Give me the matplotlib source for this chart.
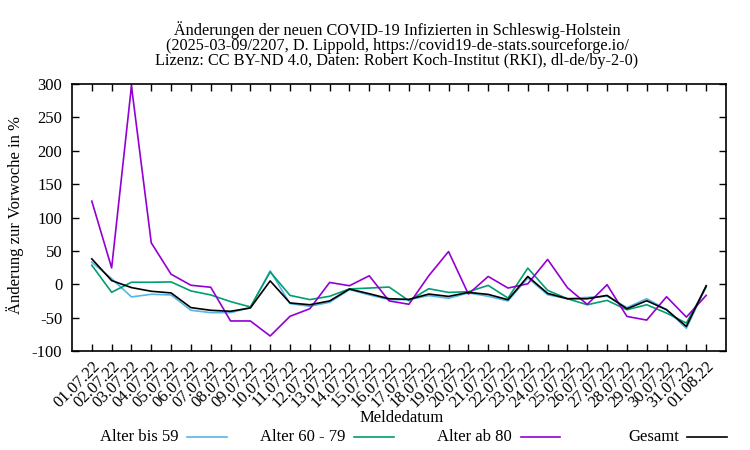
import matplotlib
matplotlib.use("Agg")
import matplotlib.pyplot as plt
from matplotlib.lines import Line2D

dates = ["01.07.22", "02.07.22", "03.07.22", "04.07.22", "05.07.22", "06.07.22", "07.07.22",
         "08.07.22", "09.07.22", "10.07.22", "11.07.22", "12.07.22", "13.07.22", "14.07.22",
         "15.07.22", "16.07.22", "17.07.22", "18.07.22", "19.07.22", "20.07.22", "21.07.22",
         "22.07.22", "23.07.22", "24.07.22", "25.07.22", "26.07.22", "27.07.22", "28.07.22",
         "29.07.22", "30.07.22", "31.07.22", "01.08.22"]

bis59 = [33, 8.5, -19, -15, -16, -39, -42.5, -42.5, -35, 20, -29, -33, -27, -8, -16, -23,
         -23, -17, -21, -13, -18, -25, 9.5, -15.7, -21.7, -19.7, -18, -35, -21.7, -38, -66, -3]
a60_79 = [28.5, -12, 3, 3, 3.5, -10, -16, -26, -34, 18.5, -16.7, -23, -18, -7, -5.7, -4.2,
          -24.7, -6.7, -12.2, -11.2, -1.7, -20.7, 24.2, -9.2, -21.7, -30.7, -24.2, -38.2,
          -30.7, -43.2, -58.2, -4.2]
ab80 = [124.5, 24.5, 297, 62, 15, -1.5, -4.5, -55, -55, -77.5, -48, -36.7, 2.7, -2.2, 12.7,
        -25, -30, 12.7, 49, -14.7, 11.7, -5.7, 0.7, 37.2, -5.2, -30.2, -0.7, -48.2, -53.7,
        -18.7, -49.2, -16.7]
gesamt = [38, 5.5, -5, -10.5, -13, -35, -39, -40.5, -35.5, 5, -28, -30.7, -25, -7.2, -14.2,
          -21.7, -22.7, -14.7, -18.2, -12.2, -15.2, -23.2, 11.7, -13.7, -21.7, -21.7, -16.7,
          -36.7, -24.7, -38.2, -63.2, -2.2]

series = [("Alter bis 59", bis59, "#56b4e9"),
          ("Alter 60 - 79", a60_79, "#009e73"),
          ("Alter ab 80", ab80, "#9400d3"),
          ("Gesamt", gesamt, "#000000")]

plt.rcParams["font.family"] = ["Liberation Serif", "DejaVu Serif"]
plt.rcParams["font.size"] = 12
plt.rcParams["axes.unicode_minus"] = False

W, H = 750, 450
fig = plt.figure(figsize=(7.5, 4.5), dpi=100)
ax = fig.add_axes([72 / W, 1 - 351 / H, (726 - 72) / W, (351 - 84) / H])

x = list(range(len(dates)))
for name, vals, col in series:
    ax.plot(x, vals, color=col, lw=1.2)

ax.set_xlim(-1, len(dates))
ax.set_ylim(-100, 300)
ax.set_yticks(range(-100, 301, 50))
ax.set_xticks(x)
ax.set_xticklabels(dates, rotation=45, ha="right", va="top", rotation_mode="anchor")
ax.tick_params(axis="both", direction="in", length=5, width=1, labelsize=12)
ax.tick_params(axis="y", right=True, pad=7)
ax.tick_params(axis="x", top=True, pad=5)
for s in ax.spines.values():
    s.set_linewidth(1.2)

fig.text(15 / W, 1 - 214.5 / H, "Änderung zur Vorwoche in %", rotation=90,
         ha="center", va="center", fontsize=12)
fig.text(402 / W, 1 - 418 / H, "Meldedatum", ha="center", va="center", fontsize=12)

fig.text(397 / W, 1 - 45 / H,
         "Änderungen der neuen COVID-19 Infizierten in Schleswig-Holstein\n"
         "(2025-03-09/2207, D. Lippold, https://covid19-de-stats.sourceforge.io/\n"
         "Lizenz: CC BY-ND 4.0, Daten: Robert Koch-Institut (RKI), dl-de/by-2-0)",
         ha="center", va="center", fontsize=11.7, linespacing=0.92)

# legend in gnuplot style: text right-aligned, then line sample
legend_pos = [(179, 187, 227), (345, 354, 394), (512, 521, 560), (679, 687, 727)]
ly = 1 - 437 / H
for (name, vals, col), (tx, l0, l1) in zip(series, legend_pos):
    fig.text(tx / W, ly, name, ha="right", va="center", fontsize=12)
    fig.add_artist(Line2D([l0 / W, l1 / W], [ly, ly], color=col, lw=1.2,
                          transform=fig.transFigure))

fig.savefig("out.png", dpi=100)
